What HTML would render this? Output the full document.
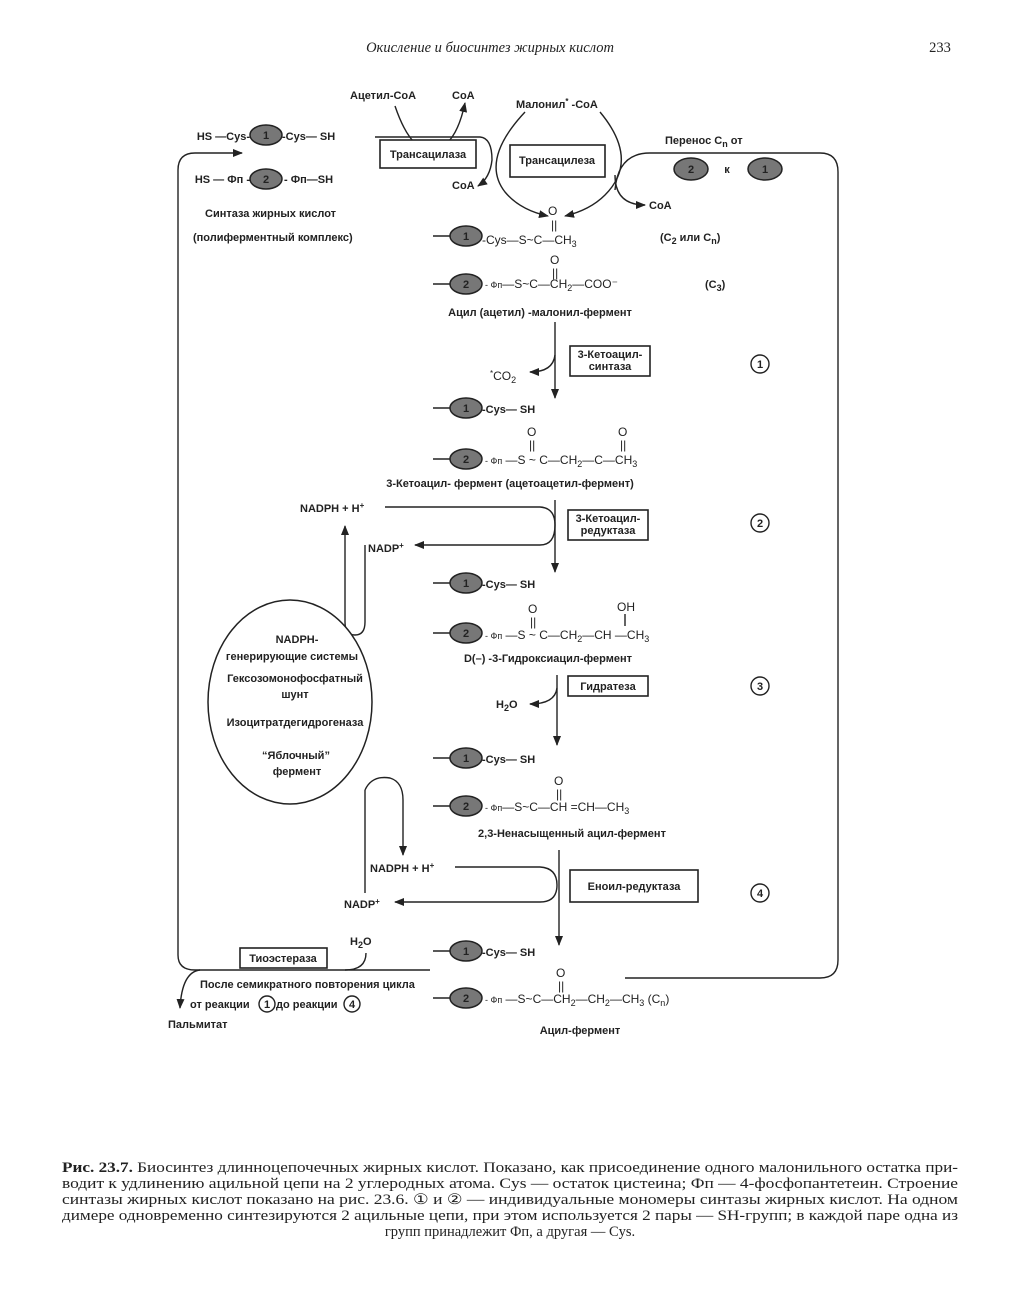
<!DOCTYPE html>
<html><head><meta charset="utf-8"><style>
html,body{margin:0;padding:0;background:#fff}
svg{display:block}
.t{font-family:"Liberation Sans",sans-serif;font-size:11px;font-weight:bold;fill:#222}
.c{font-family:"Liberation Sans",sans-serif;font-size:12px;fill:#222}
.s{font-family:"Liberation Serif",serif;font-size:14.5px;fill:#222}
.ln{fill:none;stroke:#222;stroke-width:1.4}
.ov{fill:#777;stroke:#222;stroke-width:1.5}
.bx{fill:#fff;stroke:#222;stroke-width:1.6}
</style></head><body>
<svg width="1010" height="1300" viewBox="0 0 1010 1300" xmlns="http://www.w3.org/2000/svg">
<defs><marker id="a" markerWidth="10" markerHeight="8" refX="9" refY="4" orient="auto" markerUnits="userSpaceOnUse"><path d="M0,0 L10,4 L0,8 z" fill="#222"/></marker></defs>

<text x="490" y="52" class="s" font-style="italic" text-anchor="middle" fill="#444">Окисление и биосинтез жирных кислот</text>
<text x="940" y="52" class="s" text-anchor="middle">233</text>

<!-- big left loop -->
<path class="ln" d="M430,970 L195,970 Q178,970 178,955 L178,170 Q178,153 195,153 L242,153" marker-end="url(#a)"/>
<!-- right loop -->
<path class="ln" d="M615,190 Q618,153 650,153 L820,153 Q838,153 838,172 L838,960 Q838,978 820,978 L625,978"/>

<!-- top enzyme -->
<text x="250" y="140" class="t" text-anchor="end">HS —Cys-</text>
<ellipse cx="266" cy="135" rx="16" ry="10" class="ov"/><text x="266" y="139" class="t" text-anchor="middle">1</text>
<text x="282" y="140" class="t">-Cys— SH</text>
<text x="250" y="183" class="t" text-anchor="end">HS — Фп -</text>
<ellipse cx="266" cy="179" rx="16" ry="10" class="ov"/><text x="266" y="183" class="t" text-anchor="middle">2</text>
<text x="284" y="183" class="t">- Фп—SH</text>
<text x="205" y="217" class="t" font-size="10.5">Синтаза  жирных кислот</text>
<text x="193" y="241" class="t" font-size="10">(полиферментный комплекс)</text>

<text x="350" y="99" class="t">Ацетил-CoA</text>
<text x="452" y="99" class="t">CoA</text>
<path class="ln" d="M395,106 Q410,150 430,150 Q455,150 465,103" marker-end="url(#a)"/>
<path class="ln" d="M375,137 L480,137 Q492,138 492,160 Q490,178 478,186" marker-end="url(#a)"/>
<text x="452" y="189" class="t">CoA</text>
<rect x="380" y="140" width="96" height="28" class="bx"/><text x="428" y="158" class="t" text-anchor="middle">Трансацилаза</text>

<text x="516" y="108" class="t">Малонил<tspan dy="-4" font-size="8">*</tspan><tspan dy="4"> -CoA</tspan></text>
<path class="ln" d="M525,112 Q480,160 505,192 Q520,210 548,216" marker-end="url(#a)"/>
<path class="ln" d="M600,112 Q640,160 605,195 Q590,210 565,216" marker-end="url(#a)"/>
<path class="ln" d="M615,175 Q615,205 645,205" marker-end="url(#a)"/>
<text x="649" y="209" class="t">CoA</text>
<rect x="510" y="145" width="95" height="32" class="bx"/><text x="557" y="164" class="t" text-anchor="middle">Трансацилеза</text>

<text x="665" y="144" class="t">Перенос C<tspan dy="3" font-size="9">n</tspan><tspan dy="-3"> от</tspan></text>
<ellipse cx="691" cy="169" rx="17" ry="11" class="ov"/><text x="691" y="173" class="t" text-anchor="middle">2</text>
<text x="727" y="173" class="t" text-anchor="middle">к</text>
<ellipse cx="765" cy="169" rx="17" ry="11" class="ov"/><text x="765" y="173" class="t" text-anchor="middle">1</text>

<g>
<line x1="433" y1="236" x2="452" y2="236" class="ln"/><ellipse cx="466" cy="236" rx="16" ry="10" class="ov"/><text x="466" y="240" class="t" text-anchor="middle">1</text>
<text x="482" y="244" class="c">-Cys—S~C—CH<tspan dy="3" font-size="9">3</tspan></text>
<text x="548" y="215" class="c">O</text><text x="551" y="229" class="c" font-size="10">||</text>
<text x="660" y="241" class="t">(C<tspan dy="3" font-size="9">2</tspan><tspan dy="-3"> или C</tspan><tspan dy="3" font-size="9">n</tspan><tspan dy="-3">)</tspan></text>

<line x1="433" y1="284" x2="452" y2="284" class="ln"/><ellipse cx="466" cy="284" rx="16" ry="10" class="ov"/><text x="466" y="288" class="t" text-anchor="middle">2</text>
<text x="485" y="288" class="c"><tspan font-size="9">- Фп</tspan>—S~C—CH<tspan dy="3" font-size="9">2</tspan><tspan dy="-3">—COO⁻</tspan></text>
<text x="550" y="264" class="c">O</text><text x="552" y="277" class="c" font-size="10">||</text>
<text x="705" y="288" class="t">(C<tspan dy="3" font-size="9">3</tspan><tspan dy="-3">)</tspan></text>
<text x="540" y="316" class="t" text-anchor="middle" font-size="10.5">Ацил (ацетил) -малонил-фермент</text>

<line x1="555" y1="322" x2="555" y2="398" class="ln" marker-end="url(#a)"/>
<path class="ln" d="M555,355 Q553,372 530,372" marker-end="url(#a)"/>
<text x="490" y="380" class="c"><tspan font-size="8" dy="-4">*</tspan><tspan dy="4">CO</tspan><tspan dy="3" font-size="9">2</tspan></text>
<rect x="570" y="346" width="80" height="30" class="bx"/><text x="610" y="358" class="t" text-anchor="middle" font-size="10">3-Кетоацил-</text><text x="610" y="370" class="t" text-anchor="middle" font-size="10">синтаза</text>
<circle cx="760" cy="364" r="9" fill="none" stroke="#222" stroke-width="1.4"/><text x="760" y="368" class="t" text-anchor="middle">1</text>

<line x1="433" y1="408" x2="452" y2="408" class="ln"/><ellipse cx="466" cy="408" rx="16" ry="10" class="ov"/><text x="466" y="412" class="t" text-anchor="middle">1</text>
<text x="482" y="413" class="t">-Cys— SH</text>

<line x1="433" y1="459" x2="452" y2="459" class="ln"/><ellipse cx="466" cy="459" rx="16" ry="10" class="ov"/><text x="466" y="463" class="t" text-anchor="middle">2</text>
<text x="485" y="464" class="c"><tspan font-size="9">- Фп</tspan> —S ~ C—CH<tspan dy="3" font-size="9">2</tspan><tspan dy="-3">—C—CH</tspan><tspan dy="3" font-size="9">3</tspan></text>
<text x="527" y="436" class="c">O</text><text x="529" y="449" class="c" font-size="10">||</text>
<text x="618" y="436" class="c">O</text><text x="620" y="449" class="c" font-size="10">||</text>
<text x="510" y="487" class="t" text-anchor="middle" font-size="10.5">3-Кетоацил- фермент  (ацетоацетил-фермент)</text>

<line x1="555" y1="500" x2="555" y2="572" class="ln" marker-end="url(#a)"/>
<text x="300" y="512" class="t">NADPH + H<tspan dy="-4" font-size="8">+</tspan></text>
<path class="ln" d="M385,507 L540,507 Q555,508 555,525 Q555,545 540,545 L415,545" marker-end="url(#a)"/>
<text x="368" y="552" class="t">NADP<tspan dy="-4" font-size="8">+</tspan></text>
<rect x="568" y="510" width="80" height="30" class="bx"/><text x="608" y="522" class="t" text-anchor="middle" font-size="10">3-Кетоацил-</text><text x="608" y="534" class="t" text-anchor="middle" font-size="10">редуктаза</text>
<circle cx="760" cy="523" r="9" fill="none" stroke="#222" stroke-width="1.4"/><text x="760" y="527" class="t" text-anchor="middle">2</text>
<path class="ln" d="M365,545 L365,622 Q365,635 355,635 Q345,635 345,622 L345,526" marker-end="url(#a)"/>

<line x1="433" y1="583" x2="452" y2="583" class="ln"/><ellipse cx="466" cy="583" rx="16" ry="10" class="ov"/><text x="466" y="587" class="t" text-anchor="middle">1</text>
<text x="482" y="588" class="t">-Cys— SH</text>

<line x1="433" y1="633" x2="452" y2="633" class="ln"/><ellipse cx="466" cy="633" rx="16" ry="10" class="ov"/><text x="466" y="637" class="t" text-anchor="middle">2</text>
<text x="485" y="639" class="c"><tspan font-size="9">- Фп</tspan> —S ~ C—CH<tspan dy="3" font-size="9">2</tspan><tspan dy="-3">—CH —CH</tspan><tspan dy="3" font-size="9">3</tspan></text>
<text x="528" y="613" class="c">O</text><text x="530" y="626" class="c" font-size="10">||</text>
<text x="617" y="611" class="c">OH</text><line x1="625" y1="614" x2="625" y2="626" class="ln"/>
<text x="548" y="662" class="t" text-anchor="middle" font-size="10.5">D(–) -3-Гидроксиацил-фермент</text>

<line x1="557" y1="675" x2="557" y2="745" class="ln" marker-end="url(#a)"/>
<path class="ln" d="M557,688 Q555,704 530,704" marker-end="url(#a)"/>
<text x="496" y="708" class="t">H<tspan dy="3" font-size="9">2</tspan><tspan dy="-3">O</tspan></text>
<rect x="568" y="676" width="80" height="20" class="bx"/><text x="608" y="690" class="t" text-anchor="middle" font-size="10">Гидратеза</text>
<circle cx="760" cy="686" r="9" fill="none" stroke="#222" stroke-width="1.4"/><text x="760" y="690" class="t" text-anchor="middle">3</text>

<line x1="433" y1="758" x2="452" y2="758" class="ln"/><ellipse cx="466" cy="758" rx="16" ry="10" class="ov"/><text x="466" y="762" class="t" text-anchor="middle">1</text>
<text x="482" y="763" class="t">-Cys— SH</text>

<line x1="433" y1="806" x2="452" y2="806" class="ln"/><ellipse cx="466" cy="806" rx="16" ry="10" class="ov"/><text x="466" y="810" class="t" text-anchor="middle">2</text>
<text x="485" y="811" class="c"><tspan font-size="9">- Фп</tspan>—S~C—CH =CH—CH<tspan dy="3" font-size="9">3</tspan></text>
<text x="554" y="785" class="c">O</text><text x="556" y="798" class="c" font-size="10">||</text>
<text x="572" y="837" class="t" text-anchor="middle" font-size="10.5">2,3-Ненасыщенный ацил-фермент</text>

<ellipse cx="290" cy="702" rx="82" ry="102" fill="#fff" stroke="#222" stroke-width="1.5"/>
<text x="297" y="643" class="t" text-anchor="middle">NADPH-</text>
<text x="292" y="660" class="t" text-anchor="middle" font-size="10">генерирующие системы</text>
<text x="295" y="682" class="t" text-anchor="middle" font-size="10">Гексозомонофосфатный</text>
<text x="295" y="698" class="t" text-anchor="middle" font-size="10">шунт</text>
<text x="295" y="726" class="t" text-anchor="middle" font-size="10">Изоцитратдегидрогеназа</text>
<text x="296" y="759" class="t" text-anchor="middle" font-size="10">“Яблочный”</text>
<text x="297" y="775" class="t" text-anchor="middle" font-size="10">фермент</text>

<path class="ln" d="M365,790 L365,893" />
<path class="ln" d="M365,790 Q372,775 390,778 Q403,782 403,800 L403,855" marker-end="url(#a)"/>

<line x1="559" y1="850" x2="559" y2="945" class="ln" marker-end="url(#a)"/>
<text x="370" y="872" class="t">NADPH + H<tspan dy="-4" font-size="8">+</tspan></text>
<path class="ln" d="M455,867 L540,867 Q557,868 557,885 Q557,902 540,902 L395,902" marker-end="url(#a)"/>
<text x="344" y="908" class="t">NADP<tspan dy="-4" font-size="8">+</tspan></text>
<rect x="570" y="870" width="128" height="32" class="bx"/><text x="634" y="890" class="t" text-anchor="middle" font-size="10.5">Еноил-редуктаза</text>
<circle cx="760" cy="893" r="9" fill="none" stroke="#222" stroke-width="1.4"/><text x="760" y="897" class="t" text-anchor="middle">4</text>

<line x1="433" y1="951" x2="452" y2="951" class="ln"/><ellipse cx="466" cy="951" rx="16" ry="10" class="ov"/><text x="466" y="955" class="t" text-anchor="middle">1</text>
<text x="482" y="956" class="t">-Cys—  SH</text>

<line x1="433" y1="998" x2="452" y2="998" class="ln"/><ellipse cx="466" cy="998" rx="16" ry="10" class="ov"/><text x="466" y="1002" class="t" text-anchor="middle">2</text>
<text x="485" y="1003" class="c"><tspan font-size="9">- Фп</tspan> —S~C—CH<tspan dy="3" font-size="9">2</tspan><tspan dy="-3">—CH</tspan><tspan dy="3" font-size="9">2</tspan><tspan dy="-3">—CH</tspan><tspan dy="3" font-size="9">3</tspan><tspan dy="-3">  (C</tspan><tspan dy="3" font-size="9">n</tspan><tspan dy="-3">)</tspan></text>
<text x="556" y="977" class="c">O</text><text x="558" y="990" class="c" font-size="10">||</text>
<text x="580" y="1034" class="t" text-anchor="middle" font-size="10.5">Ацил-фермент</text>

<rect x="240" y="948" width="87" height="20" class="bx"/><text x="283" y="962" class="t" text-anchor="middle" font-size="10">Тиоэстераза</text>
<text x="350" y="945" class="t">H<tspan dy="3" font-size="9">2</tspan><tspan dy="-3">O</tspan></text>
<path class="ln" d="M366,953 Q366,970 345,970"/>
<path class="ln" d="M200,970 Q182,972 180,1008" marker-end="url(#a)"/>
<text x="200" y="988" class="t" font-size="10.5">После семикратного повторения цикла</text>
<text x="190" y="1008" class="t" font-size="10.5">от реакции</text>
<circle cx="267" cy="1004" r="8" fill="none" stroke="#222" stroke-width="1.4"/><text x="267" y="1008" class="t" text-anchor="middle" font-size="10">1</text>
<text x="276" y="1008" class="t" font-size="10.5">до реакции</text>
<circle cx="352" cy="1004" r="8" fill="none" stroke="#222" stroke-width="1.4"/><text x="352" y="1008" class="t" text-anchor="middle" font-size="10">4</text>
<text x="168" y="1028" class="t" font-size="10">Пальмитат</text>
</g>

<g class="s">
<text x="62" y="1172" textLength="896" lengthAdjust="spacingAndGlyphs"><tspan font-weight="bold">Рис.  23.7.</tspan> Биосинтез длинноцепочечных жирных кислот. Показано, как присоединение одного малонильного остатка при-</text>
<text x="62" y="1188" textLength="896" lengthAdjust="spacingAndGlyphs">водит к удлинению ацильной цепи на 2 углеродных атома. Cys — остаток цистеина; Фп — 4-фосфопантетеин. Строение</text>
<text x="62" y="1204" textLength="896" lengthAdjust="spacingAndGlyphs">синтазы жирных кислот показано на рис. 23.6. ① и ② — индивидуальные мономеры синтазы жирных кислот. На одном</text>
<text x="62" y="1220" textLength="896" lengthAdjust="spacingAndGlyphs">димере одновременно синтезируются 2 ацильные цепи, при этом используется 2 пары — SH-групп; в каждой паре одна из</text>
<text x="510" y="1236" text-anchor="middle">групп принадлежит Фп, а другая — Cys.</text>
</g>
</svg>
</body></html>
